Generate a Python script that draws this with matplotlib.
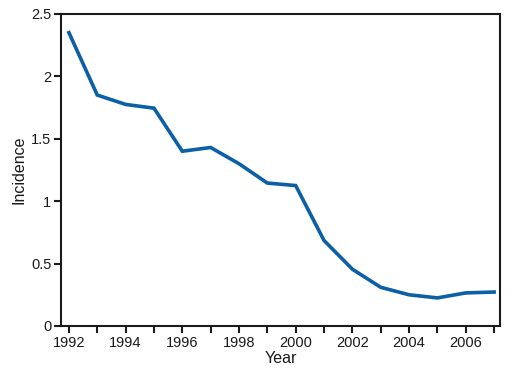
import matplotlib
matplotlib.use("Agg")
import matplotlib.pyplot as plt

years = [1992, 1993, 1994, 1995, 1996, 1997, 1998, 1999,
         2000, 2001, 2002, 2003, 2004, 2005, 2006, 2007]
incidence = [2.35, 1.85, 1.775, 1.745, 1.40, 1.43, 1.30, 1.145,
             1.125, 0.685, 0.455, 0.31, 0.25, 0.225, 0.265, 0.272]
x_labels = ["1992", "1994", "1996", "1998", "2000", "2002", "2004", "2006"]
y_ticks = [0, 0.5, 1, 1.5, 2, 2.5]
y_labels = ["0", "0.5", "1", "1.5", "2", "2.5"]

plt.rcParams["font.family"] = ["Liberation Sans", "DejaVu Sans"]

fig = plt.figure(figsize=(5.19, 3.76), dpi=100)
ax = fig.add_axes([0.1175, 0.133, 0.846, 0.830])

ax.plot(years, incidence, color="#0a5fa6", linewidth=2.6, solid_joinstyle="miter")

ax.set_xlim(1991.72, 2007.21)
ax.set_ylim(0, 2.5)
ax.set_xticks(years)
ax.set_xticklabels([str(y) if str(y) in x_labels else "" for y in years])
ax.set_yticks(y_ticks)
ax.set_yticklabels(y_labels)

for s in ax.spines.values():
    s.set_linewidth(1.5)
    s.set_color("#1a1a1a")

ax.tick_params(direction="out", length=5, width=1.5, color="#1a1a1a",
               labelsize=10.5, labelcolor="#1a1a1a", pad=2)

ax.set_xlabel("Year", fontsize=11.5, color="#1a1a1a", labelpad=1)
ax.set_ylabel("Incidence", fontsize=11.5, color="#1a1a1a", labelpad=3)

fig.savefig("out.png", dpi=100)
